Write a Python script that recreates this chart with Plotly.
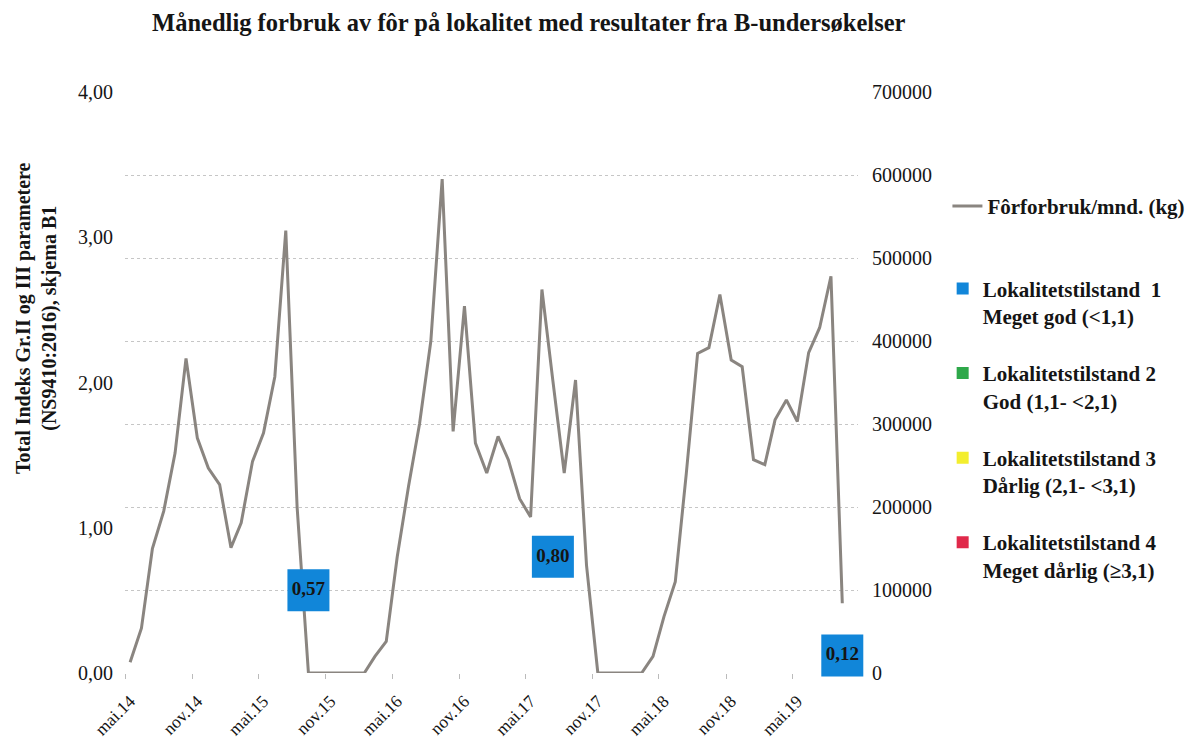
import plotly.graph_objects as go

# ---------------- data ----------------
month_dates = [f"{2014 + (4 + i) // 12}-{(4 + i) % 12 + 1:02d}-15" for i in range(65)]  # mai.14 .. sep.19

feed_kg = [
    13000, 54000, 150000, 195000, 265000, 379000, 283000, 247000, 227000, 151000,
    181000, 255000, 289000, 357000, 533000, 200000, 0, 0, 0, 0,
    0, 0, 20000, 38000, 140000, 225000, 300000, 400000, 595000, 291000,
    442000, 277000, 241000, 285000, 257000, 210000, 188000, 462000, 352000, 241000,
    353000, 130000, 0, 0, 0, 0, 0, 20000, 68000, 110000,
    240000, 385000, 392000, 456000, 377000, 369000, 257000, 251000, 305000, 329000,
    303000, 386000, 416000, 478000, 84000,
]

survey_dates = ["2015-09-15", "2017-07-15", "2019-09-15"]
survey_index = [0.57, 0.80, 0.12]

tick_dates = ["2014-05-01", "2014-11-01", "2015-05-01", "2015-11-01", "2016-05-01", "2016-11-01",
              "2017-05-01", "2017-11-01", "2018-05-01", "2018-11-01", "2019-05-01"]
tick_text = ["mai.14", "nov.14", "mai.15", "nov.15", "mai.16", "nov.16",
             "mai.17", "nov.17", "mai.18", "nov.18", "mai.19"]

state_names = [
    "Lokalitetstilstand  1<br>Meget god (<1,1)",
    "Lokalitetstilstand 2<br>God (1,1- <2,1)",
    "Lokalitetstilstand 3<br>Dårlig (2,1- <3,1)",
    "Lokalitetstilstand 4<br>Meget dårlig (≥3,1)",
]
state_colors = ["#1186d9", "#2ea84a", "#f3ee2e", "#e0294a"]

title_text = "Månedlig forbruk av fôr på lokalitet med resultater fra B-undersøkelser"
left_title = "Total Indeks Gr.II og III parametere<br>(NS9410:2016), skjema B1"
line_name = "Fôrforbruk/mnd. (kg)"

SERIF = "Liberation Serif, Times New Roman, serif"
INK = "#151515"

# ---------------- figure ----------------
fig = go.Figure()

fig.add_trace(go.Scatter(
    x=month_dates, y=feed_kg, mode="lines", name=line_name,
    line=dict(color="#8a8580", width=3), yaxis="y", legend="legend",
))

fig.add_trace(go.Scatter(
    x=survey_dates, y=survey_index, mode="markers+text", yaxis="y2",
    marker=dict(symbol="square", size=42, color=state_colors[0], line=dict(width=0)),
    texttemplate="%{y:.2f}", textposition="middle center",
    textfont=dict(family=SERIF, size=19, color=INK, weight="bold"),
    cliponaxis=False, showlegend=False, hoverinfo="skip",
))

for i, (nm, col) in enumerate(zip(state_names, state_colors)):
    fig.add_trace(go.Scatter(
        x=[None], y=[None], mode="markers", name=nm, yaxis="y2",
        marker=dict(symbol="square", size=12, color=col),
        legend="legend2", legendgroup=f"g{i}",
    ))

# the page body adds an 8px margin, so the figure is sized to fit inside it
fig.update_layout(
    width=1189, height=732,
    margin=dict(l=117, r=339, t=84, b=67, autoexpand=False),
    paper_bgcolor="white", plot_bgcolor="white",
    separators=", ",
    font=dict(family=SERIF, color=INK),
    title=dict(text=f"<b>{title_text}</b>", x=0.438, xanchor="center", xref="container",
               y=0.980, yanchor="middle", yref="container",
               font=dict(family=SERIF, size=24.5, color=INK)),
    xaxis=dict(
        type="date", range=["2014-05-01", "2019-10-28"], automargin=False,
        tickmode="array", tickvals=tick_dates, ticktext=tick_text, tickangle=-45,
        tickfont=dict(family=SERIF, size=17.5, color=INK),
        showgrid=False, zeroline=False, showline=False,
        ticks="outside", ticklen=5, tickcolor="#bbbbbb",
        ticklabelstandoff=5, ticklabelshift=5,
    ),
    yaxis=dict(
        side="right", range=[0, 700000], dtick=100000, tickformat="d", automargin=False,
        tickfont=dict(family=SERIF, size=20, color=INK),
        showgrid=True, gridcolor="#c6c6c6", griddash="dot", gridwidth=1,
        zeroline=False, showline=False, ticklabelstandoff=13,
    ),
    yaxis2=dict(
        overlaying="y", side="left", range=[0, 4], dtick=1, tickformat=".2f", automargin=False,
        tickfont=dict(family=SERIF, size=20, color=INK),
        showgrid=False, zeroline=False, showline=False, ticklabelstandoff=11,
    ),
    legend=dict(
        x=1.122, xanchor="left", y=0.803, yanchor="middle",
        font=dict(family=SERIF, size=21, color=INK, weight="bold"),
        bgcolor="rgba(0,0,0,0)",
    ),
    legend2=dict(
        x=1.1155, xanchor="left", y=0.6966, yanchor="top",
        font=dict(family=SERIF, size=21, color=INK, weight="bold"),
        bgcolor="rgba(0,0,0,0)", tracegroupgap=27, valign="top",
    ),
    annotations=[dict(
        text=f"<b>{left_title}</b>", textangle=-90, xref="paper", yref="paper",
        x=-0.1214, y=0.611, xanchor="center", yanchor="middle", showarrow=False,
        font=dict(family=SERIF, size=20, color=INK),
    )],
    showlegend=True,
)

fig.write_html("out.html")
